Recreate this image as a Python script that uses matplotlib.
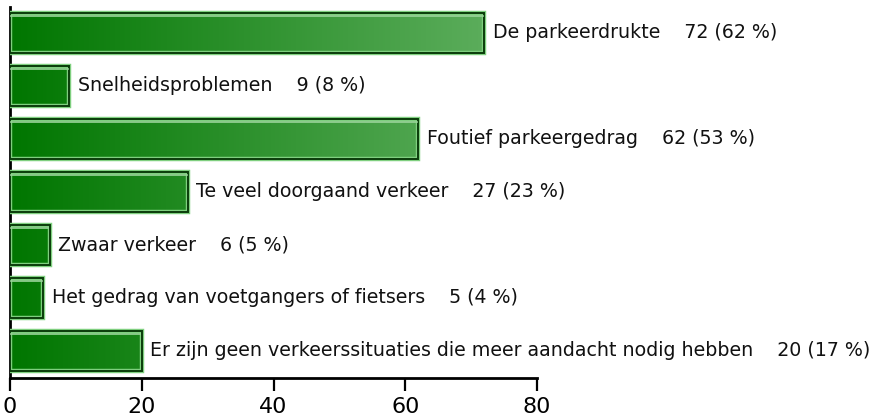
import matplotlib.pyplot as plt
import numpy as np
from matplotlib.patches import Rectangle

categories = ['De parkeerdrukte', 'Snelheidsproblemen', 'Foutief parkeergedrag',
              'Te veel doorgaand verkeer', 'Zwaar verkeer',
              'Het gedrag van voetgangers of fietsers',
              'Er zijn geen verkeerssituaties die meer aandacht nodig hebben']
counts = [72, 9, 62, 27, 6, 5, 20]
percents = [62, 8, 53, 23, 5, 4, 17]

fig = plt.figure(figsize=(8.74, 4.2), dpi=100)
ax = fig.add_axes([10/874, 1-378/420, 527/874, 371/420])

# horizontal gradient, dark green on the left, lighter towards the right
grad = np.linspace(0, 1, 256).reshape(1, -1)
c0 = np.array([0, 118, 0]) / 255
c1 = np.array([95, 175, 95]) / 255
img = c0 + (c1 - c0) * grad[..., None]

h = 0.76
for i, (cat, n, p) in enumerate(zip(categories, counts, percents)):
    y0 = i - h/2
    im = ax.imshow(img, extent=[0, 75, i + h/2, y0], aspect='auto', zorder=2)
    clip = Rectangle((0, y0), n, h, transform=ax.transData)
    im.set_clip_path(clip)
    # light outer rim, then dark edge
    ax.add_patch(Rectangle((0, y0), n, h, fill=False, ec='#7fcf7f', lw=3.2, zorder=3))
    ax.add_patch(Rectangle((0, y0), n, h, fill=False, ec='#0a3d0a', lw=1.4, zorder=3))
    ax.plot([0.2, n - 0.2], [y0 + 0.06, y0 + 0.06], color='#9ad49a', lw=1.2, zorder=4)
    ax.text(n + 1.3, i, f'{cat}    {n} ({p} %)', va='center', ha='left',
            fontsize=13.7, color='#111111', zorder=5, clip_on=False)

ax.set_xlim(0, 80)
ax.set_ylim(6.51, -0.49)
ax.set_xticks([0, 20, 40, 60, 80])
ax.set_yticks([])
ax.tick_params(axis='x', direction='out', length=9, width=1.6, labelsize=16, pad=5)
for s in ['top', 'right']:
    ax.spines[s].set_visible(False)
ax.spines['left'].set_linewidth(2)
ax.spines['bottom'].set_linewidth(2)

fig.savefig('out.png', dpi=100)
